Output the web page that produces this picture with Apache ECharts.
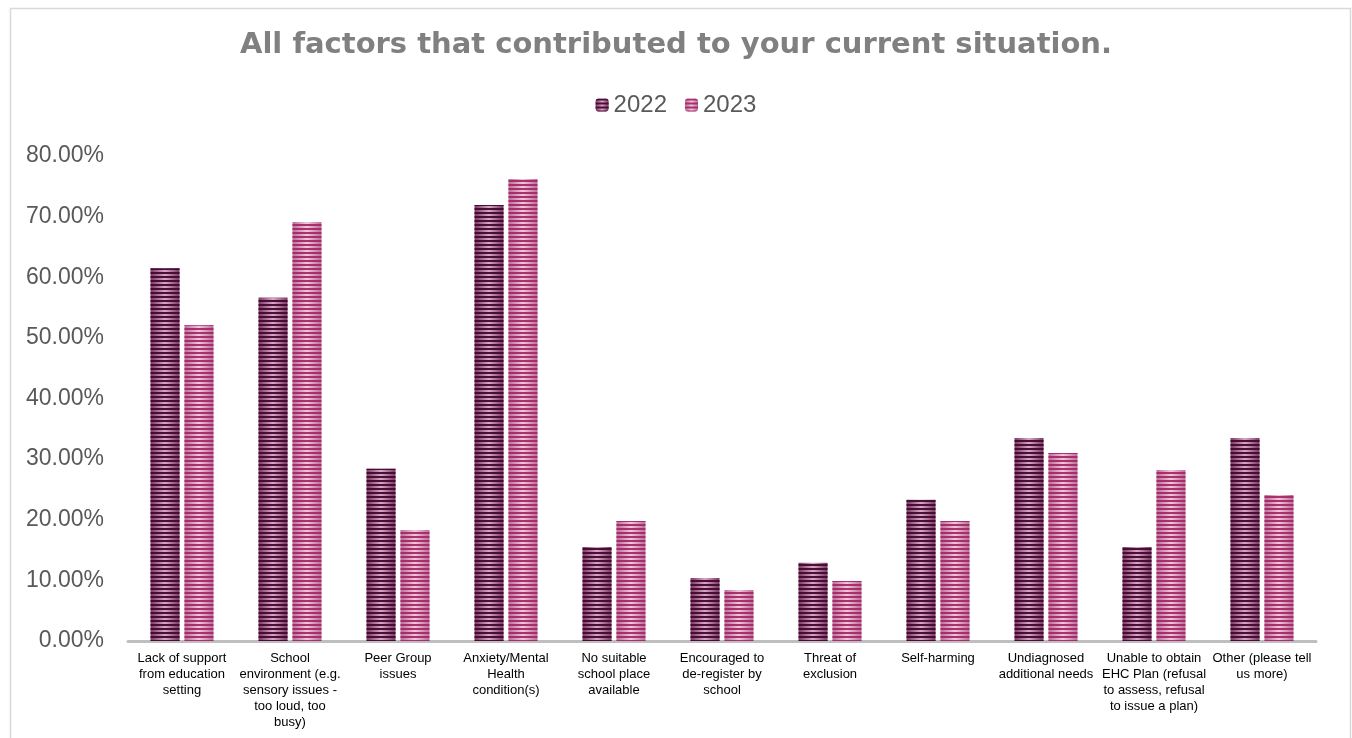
<!DOCTYPE html>
<html>
<head>
<meta charset="utf-8">
<style>
  html, body { margin: 0; padding: 0; background: #ffffff; }
  #chart { width: 1352px; height: 738px; }
</style>
<script src="https://cdn.jsdelivr.net/npm/echarts@6/dist/echarts.min.js"></script>
</head>
<body>
<div id="chart"></div>
<script>
// Survey factors (line breaks follow the printed label wrapping)
const categories = [
  'Lack of support\nfrom education\nsetting',
  'School\nenvironment (e.g.\nsensory issues -\ntoo loud, too\nbusy)',
  'Peer Group\nissues',
  'Anxiety/Mental\nHealth\ncondition(s)',
  'No suitable\nschool place\navailable',
  'Encouraged to\nde-register by\nschool',
  'Threat of\nexclusion',
  'Self-harming',
  'Undiagnosed\nadditional needs',
  'Unable to obtain\nEHC Plan (refusal\nto assess, refusal\nto issue a plan)',
  'Other (please tell\nus more)'
];

// Share of respondents (fractions)
const values2022 = [0.615, 0.566, 0.284, 0.719, 0.155, 0.104, 0.129, 0.233, 0.335, 0.155, 0.335];
const values2023 = [0.521, 0.691, 0.183, 0.762, 0.198, 0.084, 0.099, 0.198, 0.310, 0.282, 0.241];

const seriesNames = ['2022', '2023'];
const yTicks = { min: 0, max: 0.8, interval: 0.1 };

// horizontal shading: darker edges, lighter middle
function shade(edge, mid) {
  return {
    type: 'linear', x: 0, y: 0, x2: 1, y2: 0,
    colorStops: [
      { offset: 0, color: edge },
      { offset: 0.5, color: mid },
      { offset: 1, color: edge }
    ]
  };
}

// thin horizontal stripes laid over the bar fill
function stripes(color) {
  return {
    symbol: 'rect',
    symbolSize: 1,
    color: color,
    dashArrayX: [10, 0],
    dashArrayY: [2, 2],
    rotation: 0
  };
}

const chart = echarts.init(document.getElementById('chart'), null, { renderer: 'canvas' });

chart.setOption({
  backgroundColor: '#ffffff',
  animation: false,
  title: {
    text: 'All factors that contributed to your current situation.',
    left: 'center',
    top: 26,
    textStyle: {
      fontFamily: 'DejaVu Sans',
      fontWeight: 'bold',
      fontSize: 29,
      color: '#808080'
    }
  },
  legend: {
    top: 88,
    left: 'center',
    itemWidth: 13,
    itemHeight: 13,
    itemGap: 18,
    textStyle: {
      fontFamily: 'Liberation Sans',
      fontSize: 24,
      color: '#595959'
    },
    data: seriesNames
  },
  grid: {
    left: 128,
    right: 36,
    top: 156,
    bottom: 97,
    containLabel: false
  },
  xAxis: {
    type: 'category',
    data: categories,
    axisLine: { show: true, lineStyle: { color: '#bfbfbf', width: 3 } },
    axisTick: { show: false },
    axisLabel: {
      interval: 0,
      margin: 9,
      fontFamily: 'Liberation Sans',
      fontSize: 13,
      lineHeight: 16,
      color: '#000000',
      align: 'center'
    }
  },
  yAxis: {
    type: 'value',
    min: yTicks.min,
    max: yTicks.max,
    interval: yTicks.interval,
    axisLine: { show: false },
    axisTick: { show: false },
    splitLine: { show: false },
    axisLabel: {
      margin: 24,
      fontFamily: 'Liberation Sans',
      fontSize: 23,
      color: '#595959',
      formatter: function (v) { return (v * 100).toFixed(2) + '%'; }
    }
  },
  graphic: [
    {
      type: 'rect',
      left: 8,
      top: 6,
      shape: { width: 1340, height: 760 },
      style: { fill: 'none', stroke: '#d9d9d9', lineWidth: 1.5 },
      silent: true,
      z: -10
    }
  ],
  series: [
    {
      name: seriesNames[0],
      type: 'bar',
      data: values2022,
      barWidth: 29,
      barGap: '17%',
      itemStyle: {
        color: shade('#7a3862', '#dba6c6'),
        decal: stripes('rgba(66, 8, 48, 0.95)')
      }
    },
    {
      name: seriesNames[1],
      type: 'bar',
      data: values2023,
      barWidth: 29,
      barGap: '17%',
      itemStyle: {
        color: shade('#bb6e98', '#f1c6db'),
        decal: stripes('rgba(164, 38, 102, 0.92)')
      }
    }
  ]
});
</script>
</body>
</html>
